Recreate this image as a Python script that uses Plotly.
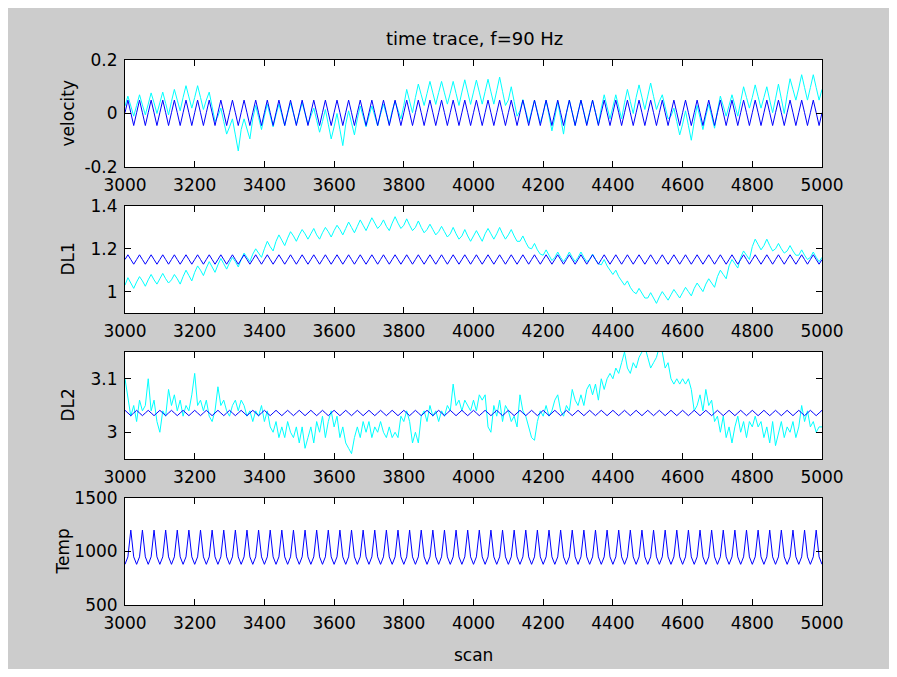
import plotly.graph_objects as go

# ---------------- data ----------------
scan_start = 3000
scan_end = 5000
n_samples = 241  # samples every 2000/240 scans (4 per 90 Hz cycle)

vel_cyan = [
    0.028, 0.065, 0.028, -0.01,   0.03, 0.07, 0.032, -0.005,   0.035, 0.077, 0.04, 0.0,   0.04, 0.08, 0.038, -0.005,
    0.045, 0.09, 0.05, 0.01,   0.06, 0.104, 0.062, 0.02,   0.06, 0.104, 0.06, 0.015,   0.05, 0.08, 0.025, -0.03,
    -0.01, 0.02, -0.03, -0.077,   -0.05, -0.02, -0.08, -0.14,   -0.06, -0.02, -0.058, -0.095,   -0.02, 0.03, -0.015, -0.06,
    -0.01, 0.035, -0.008, -0.05,   -0.005, 0.035, -0.005, -0.045,   0.0, 0.04, 0.0, -0.04,   0.0, 0.04, 0.0, -0.04,
    -0.01, 0.02, -0.025, -0.07,   -0.03, 0.015, -0.04, -0.095,   -0.05, 0.0, -0.06, -0.12,   -0.04, 0.01, -0.035, -0.08,
    -0.02, 0.028, -0.011, -0.05,   -0.01, 0.028, -0.009, -0.046,   -0.003, 0.035, -0.002, -0.04,   0.01, 0.046, 0.013, -0.02,
    0.03, 0.09, 0.046, 0.003,   0.06, 0.11, 0.07, 0.03,   0.075, 0.12, 0.077, 0.034,   0.078, 0.12, 0.077, 0.035,
    0.076, 0.12, 0.075, 0.03,   0.08, 0.126, 0.08, 0.034,   0.08, 0.125, 0.08, 0.035,   0.082, 0.128, 0.081, 0.035,
    0.085, 0.136, 0.083, 0.03,   0.05, 0.1, 0.045, -0.01,   0.01, 0.052, 0.009, -0.034,   0.008, 0.05, 0.007, -0.035,
    0.0, 0.05, -0.008, -0.065,   -0.015, 0.045, -0.016, -0.077,   0.0, 0.05, 0.003, -0.045,   0.005, 0.05, 0.005, -0.04,
    0.005, 0.05, 0.005, -0.04,   0.02, 0.07, 0.025, -0.02,   0.025, 0.07, 0.025, -0.02,   0.04, 0.09, 0.045, 0.0,
    0.06, 0.107, 0.061, 0.015,   0.065, 0.114, 0.064, 0.015,   0.045, 0.07, 0.025, -0.02,   -0.01, 0.02, -0.03, -0.08,
    -0.04, 0.01, -0.045, -0.1,   -0.03, 0.03, -0.015, -0.06,   -0.01, 0.035, -0.01, -0.055,   0.01, 0.065, 0.028, -0.01,
    0.03, 0.07, 0.03, -0.01,   0.045, 0.1, 0.06, 0.02,   0.06, 0.107, 0.063, 0.02,   0.06, 0.1, 0.05, 0.003,
    0.055, 0.11, 0.055, 0.0,   0.07, 0.13, 0.09, 0.05,   0.095, 0.145, 0.097, 0.05,   0.097, 0.145, 0.097, 0.05,
    0.09,
]

vel_blue = [
    0.003, 0.05, 0.003, -0.045, 0.003, 0.05, 0.003, -0.045, 0.003, 0.05, 0.003, -0.045, 0.003, 0.05, 0.003, -0.045,
    0.003, 0.05, 0.003, -0.045, 0.003, 0.05, 0.003, -0.045, 0.003, 0.05, 0.003, -0.045, 0.003, 0.05, 0.003, -0.045,
    0.003, 0.05, 0.003, -0.045, 0.003, 0.05, 0.003, -0.045, 0.003, 0.05, 0.003, -0.045, 0.003, 0.05, 0.003, -0.045,
    0.003, 0.05, 0.003, -0.045, 0.003, 0.05, 0.003, -0.045, 0.003, 0.05, 0.003, -0.045, 0.003, 0.05, 0.003, -0.045,
    0.003, 0.05, 0.003, -0.045, 0.003, 0.05, 0.003, -0.045, 0.003, 0.05, 0.003, -0.045, 0.003, 0.05, 0.003, -0.045,
    0.003, 0.05, 0.003, -0.045, 0.003, 0.05, 0.003, -0.045, 0.003, 0.05, 0.003, -0.045, 0.003, 0.05, 0.003, -0.045,
    0.003, 0.05, 0.003, -0.045, 0.003, 0.05, 0.003, -0.045, 0.003, 0.05, 0.003, -0.045, 0.003, 0.05, 0.003, -0.045,
    0.003, 0.05, 0.003, -0.045, 0.003, 0.05, 0.003, -0.045, 0.003, 0.05, 0.003, -0.045, 0.003, 0.05, 0.003, -0.045,
    0.003, 0.05, 0.003, -0.045, 0.003, 0.05, 0.003, -0.045, 0.003, 0.05, 0.003, -0.045, 0.003, 0.05, 0.003, -0.045,
    0.003, 0.05, 0.003, -0.045, 0.003, 0.05, 0.003, -0.045, 0.003, 0.05, 0.003, -0.045, 0.003, 0.05, 0.003, -0.045,
    0.003, 0.05, 0.003, -0.045, 0.003, 0.05, 0.003, -0.045, 0.003, 0.05, 0.003, -0.045, 0.003, 0.05, 0.003, -0.045,
    0.003, 0.05, 0.003, -0.045, 0.003, 0.05, 0.003, -0.045, 0.003, 0.05, 0.003, -0.045, 0.003, 0.05, 0.003, -0.045,
    0.003, 0.05, 0.003, -0.045, 0.003, 0.05, 0.003, -0.045, 0.003, 0.05, 0.003, -0.045, 0.003, 0.05, 0.003, -0.045,
    0.003, 0.05, 0.003, -0.045, 0.003, 0.05, 0.003, -0.045, 0.003, 0.05, 0.003, -0.045, 0.003, 0.05, 0.003, -0.045,
    0.003, 0.05, 0.003, -0.045, 0.003, 0.05, 0.003, -0.045, 0.003, 0.05, 0.003, -0.045, 0.003, 0.05, 0.003, -0.045,
    0.003,
]

dl1_cyan = [
    1.03, 1.065, 1.04, 1.015,   1.045, 1.07, 1.05, 1.025,   1.055, 1.08, 1.055, 1.035,   1.06, 1.085, 1.06, 1.04,
    1.055, 1.08, 1.06, 1.035,   1.07, 1.1, 1.075, 1.05,   1.09, 1.12, 1.1, 1.075,   1.11, 1.14, 1.115, 1.09,
    1.125, 1.155, 1.13, 1.105,   1.135, 1.16, 1.14, 1.115,   1.15, 1.18, 1.16, 1.14,   1.175, 1.2, 1.18, 1.16,
    1.2, 1.235, 1.21, 1.19,   1.235, 1.265, 1.24, 1.215,   1.25, 1.28, 1.26, 1.235,   1.265, 1.29, 1.27, 1.245,
    1.27, 1.295, 1.265, 1.245,   1.275, 1.3, 1.28, 1.255,   1.285, 1.31, 1.29, 1.265,   1.295, 1.325, 1.3, 1.275,
    1.305, 1.335, 1.31, 1.285,   1.315, 1.345, 1.32, 1.295,   1.31, 1.335, 1.305, 1.285,   1.32, 1.35, 1.32, 1.295,
    1.31, 1.34, 1.31, 1.285,   1.3, 1.33, 1.3, 1.275,   1.29, 1.315, 1.29, 1.265,   1.28, 1.305, 1.28, 1.255,
    1.27, 1.3, 1.27, 1.245,   1.26, 1.29, 1.26, 1.235,   1.26, 1.285, 1.26, 1.235,   1.27, 1.295, 1.27, 1.245,
    1.27, 1.3, 1.27, 1.245,   1.265, 1.29, 1.26, 1.235,   1.235, 1.26, 1.23, 1.205,   1.2, 1.225, 1.195, 1.175,
    1.17, 1.195, 1.17, 1.145,   1.16, 1.185, 1.16, 1.14,   1.16, 1.185, 1.16, 1.14,   1.16, 1.185, 1.16, 1.14,
    1.15, 1.175, 1.15, 1.13,   1.125, 1.15, 1.12, 1.1,   1.08, 1.1, 1.07, 1.05,   1.03, 1.05, 1.02, 1.0,
    0.99, 1.015, 0.99, 0.97,   0.97, 0.995, 0.97, 0.945,   0.975, 1.0, 0.98, 0.96,   0.985, 1.01, 0.99, 0.97,
    0.995, 1.02, 1.0, 0.98,   1.015, 1.04, 1.02, 1.0,   1.035, 1.06, 1.04, 1.02,   1.07, 1.1, 1.08, 1.06,
    1.12, 1.15, 1.13, 1.11,   1.16, 1.19, 1.17, 1.15,   1.21, 1.245, 1.22, 1.195,   1.215, 1.245, 1.215, 1.19,
    1.2, 1.225, 1.2, 1.18,   1.19, 1.215, 1.19, 1.17,   1.17, 1.195, 1.17, 1.15,   1.16, 1.185, 1.16, 1.14,
    1.16,
]

dl1_blue = [
    1.15, 1.172, 1.15, 1.128, 1.15, 1.172, 1.15, 1.128, 1.15, 1.172, 1.15, 1.128, 1.15, 1.172, 1.15, 1.128,
    1.15, 1.172, 1.15, 1.128, 1.15, 1.172, 1.15, 1.128, 1.15, 1.172, 1.15, 1.128, 1.15, 1.172, 1.15, 1.128,
    1.15, 1.172, 1.15, 1.128, 1.15, 1.172, 1.15, 1.128, 1.15, 1.172, 1.15, 1.128, 1.15, 1.172, 1.15, 1.128,
    1.15, 1.172, 1.15, 1.128, 1.15, 1.172, 1.15, 1.128, 1.15, 1.172, 1.15, 1.128, 1.15, 1.172, 1.15, 1.128,
    1.15, 1.172, 1.15, 1.128, 1.15, 1.172, 1.15, 1.128, 1.15, 1.172, 1.15, 1.128, 1.15, 1.172, 1.15, 1.128,
    1.15, 1.172, 1.15, 1.128, 1.15, 1.172, 1.15, 1.128, 1.15, 1.172, 1.15, 1.128, 1.15, 1.172, 1.15, 1.128,
    1.15, 1.172, 1.15, 1.128, 1.15, 1.172, 1.15, 1.128, 1.15, 1.172, 1.15, 1.128, 1.15, 1.172, 1.15, 1.128,
    1.15, 1.172, 1.15, 1.128, 1.15, 1.172, 1.15, 1.128, 1.15, 1.172, 1.15, 1.128, 1.15, 1.172, 1.15, 1.128,
    1.15, 1.172, 1.15, 1.128, 1.15, 1.172, 1.15, 1.128, 1.15, 1.172, 1.15, 1.128, 1.15, 1.172, 1.15, 1.128,
    1.15, 1.172, 1.15, 1.128, 1.15, 1.172, 1.15, 1.128, 1.15, 1.172, 1.15, 1.128, 1.15, 1.172, 1.15, 1.128,
    1.15, 1.172, 1.15, 1.128, 1.15, 1.172, 1.15, 1.128, 1.15, 1.172, 1.15, 1.128, 1.15, 1.172, 1.15, 1.128,
    1.15, 1.172, 1.15, 1.128, 1.15, 1.172, 1.15, 1.128, 1.15, 1.172, 1.15, 1.128, 1.15, 1.172, 1.15, 1.128,
    1.15, 1.172, 1.15, 1.128, 1.15, 1.172, 1.15, 1.128, 1.15, 1.172, 1.15, 1.128, 1.15, 1.172, 1.15, 1.128,
    1.15, 1.172, 1.15, 1.128, 1.15, 1.172, 1.15, 1.128, 1.15, 1.172, 1.15, 1.128, 1.15, 1.172, 1.15, 1.128,
    1.15, 1.172, 1.15, 1.128, 1.15, 1.172, 1.15, 1.128, 1.15, 1.172, 1.15, 1.128, 1.15, 1.172, 1.15, 1.128,
    1.15,
]

dl2_cyan = [
    3.10, 3.06, 3.03, 3.05, 3.02, 3.06, 3.04, 3.05, 3.10, 3.04, 3.06, 3.02, 3.00, 3.04, 3.03, 3.08,
    3.05, 3.07, 3.04, 3.06, 3.03, 3.05, 3.04, 3.07, 3.11, 3.05, 3.06, 3.04, 3.06, 3.03, 3.02, 3.04,
    3.085, 3.05, 3.06, 3.04, 3.03, 3.05, 3.06, 3.04, 3.06, 3.05, 3.03, 3.04, 3.02, 3.04, 3.03, 3.05,
    3.02, 3.04, 3.01, 3.00, 3.02, 2.99, 3.01, 2.99, 3.02, 3.00, 2.99, 3.01, 2.98, 3.01, 2.97, 2.99,
    3.01, 2.98, 3.02, 3.00, 3.03, 2.99, 3.02, 3.04, 3.01, 3.03, 2.99, 3.01, 2.98, 2.97, 2.96, 2.99,
    3.01, 2.99, 3.02, 3.00, 3.02, 2.99, 3.01, 3.00, 3.02, 3.00, 2.99, 3.01, 2.99, 3.00, 2.99, 3.03,
    3.02, 3.04, 3.02, 2.98, 3.00, 2.98, 3.03, 3.04, 3.02, 3.05, 3.03, 3.04, 3.02, 3.04, 3.03, 3.05,
    3.04, 3.09, 3.05, 3.06, 3.04, 3.06, 3.05, 3.04, 3.06, 3.04, 3.07, 3.06, 3.07, 3.01, 3.00, 3.05,
    3.03, 3.06, 3.02, 3.05, 3.04, 3.02, 3.03, 3.01, 3.07, 3.04, 3.03, 3.01, 2.99, 2.985, 3.02, 3.04,
    3.03, 3.05, 3.03, 3.04, 3.06, 3.07, 3.04, 3.03, 3.05, 3.04, 3.08, 3.06, 3.05, 3.07, 3.05, 3.08,
    3.09, 3.07, 3.09, 3.06, 3.10, 3.08, 3.10, 3.11, 3.10, 3.12, 3.11, 3.13, 3.15, 3.12, 3.11, 3.13,
    3.12, 3.14, 3.15, 3.16, 3.14, 3.12, 3.13, 3.14, 3.16, 3.15, 3.12, 3.13, 3.10, 3.09, 3.10, 3.09,
    3.10, 3.09, 3.10, 3.08, 3.04, 3.05, 3.07, 3.04, 3.08, 3.05, 3.06, 3.02, 3.03, 3.00, 3.03, 2.99,
    3.01, 2.98, 3.01, 3.03, 3.00, 3.02, 2.99, 3.02, 3.01, 3.03, 3.01, 3.02, 2.99, 3.01, 2.98, 3.02,
    2.975, 3.00, 3.02, 2.99, 3.01, 3.00, 3.02, 2.99, 3.01, 3.05, 3.02, 3.04, 3.01, 3.02, 3.00, 3.01,
    3.01,
]

dl2_blue = [
    3.041, 3.036, 3.031, 3.036, 3.041, 3.036, 3.031, 3.036, 3.041, 3.036, 3.031, 3.036, 3.041, 3.036, 3.031, 3.036,
    3.041, 3.036, 3.031, 3.036, 3.041, 3.036, 3.031, 3.036, 3.041, 3.036, 3.031, 3.036, 3.041, 3.036, 3.031, 3.036,
    3.041, 3.036, 3.031, 3.036, 3.041, 3.036, 3.031, 3.036, 3.041, 3.036, 3.031, 3.036, 3.041, 3.036, 3.031, 3.036,
    3.041, 3.036, 3.031, 3.036, 3.041, 3.036, 3.031, 3.036, 3.041, 3.036, 3.031, 3.036, 3.041, 3.036, 3.031, 3.036,
    3.041, 3.036, 3.031, 3.036, 3.041, 3.036, 3.031, 3.036, 3.041, 3.036, 3.031, 3.036, 3.041, 3.036, 3.031, 3.036,
    3.041, 3.036, 3.031, 3.036, 3.041, 3.036, 3.031, 3.036, 3.041, 3.036, 3.031, 3.036, 3.041, 3.036, 3.031, 3.036,
    3.041, 3.036, 3.031, 3.036, 3.041, 3.036, 3.031, 3.036, 3.041, 3.036, 3.031, 3.036, 3.041, 3.036, 3.031, 3.036,
    3.041, 3.036, 3.031, 3.036, 3.041, 3.036, 3.031, 3.036, 3.041, 3.036, 3.031, 3.036, 3.041, 3.036, 3.031, 3.036,
    3.041, 3.036, 3.031, 3.036, 3.041, 3.036, 3.031, 3.036, 3.041, 3.036, 3.031, 3.036, 3.041, 3.036, 3.031, 3.036,
    3.041, 3.036, 3.031, 3.036, 3.041, 3.036, 3.031, 3.036, 3.041, 3.036, 3.031, 3.036, 3.041, 3.036, 3.031, 3.036,
    3.041, 3.036, 3.031, 3.036, 3.041, 3.036, 3.031, 3.036, 3.041, 3.036, 3.031, 3.036, 3.041, 3.036, 3.031, 3.036,
    3.041, 3.036, 3.031, 3.036, 3.041, 3.036, 3.031, 3.036, 3.041, 3.036, 3.031, 3.036, 3.041, 3.036, 3.031, 3.036,
    3.041, 3.036, 3.031, 3.036, 3.041, 3.036, 3.031, 3.036, 3.041, 3.036, 3.031, 3.036, 3.041, 3.036, 3.031, 3.036,
    3.041, 3.036, 3.031, 3.036, 3.041, 3.036, 3.031, 3.036, 3.041, 3.036, 3.031, 3.036, 3.041, 3.036, 3.031, 3.036,
    3.041, 3.036, 3.031, 3.036, 3.041, 3.036, 3.031, 3.036, 3.041, 3.036, 3.031, 3.036, 3.041, 3.036, 3.031, 3.036,
    3.041,
]

temp_blue = [
    880, 950, 1200, 950, 880, 950, 1200, 950, 880, 950, 1200, 950, 880, 950, 1200, 950,
    880, 950, 1200, 950, 880, 950, 1200, 950, 880, 950, 1200, 950, 880, 950, 1200, 950,
    880, 950, 1200, 950, 880, 950, 1200, 950, 880, 950, 1200, 950, 880, 950, 1200, 950,
    880, 950, 1200, 950, 880, 950, 1200, 950, 880, 950, 1200, 950, 880, 950, 1200, 950,
    880, 950, 1200, 950, 880, 950, 1200, 950, 880, 950, 1200, 950, 880, 950, 1200, 950,
    880, 950, 1200, 950, 880, 950, 1200, 950, 880, 950, 1200, 950, 880, 950, 1200, 950,
    880, 950, 1200, 950, 880, 950, 1200, 950, 880, 950, 1200, 950, 880, 950, 1200, 950,
    880, 950, 1200, 950, 880, 950, 1200, 950, 880, 950, 1200, 950, 880, 950, 1200, 950,
    880, 950, 1200, 950, 880, 950, 1200, 950, 880, 950, 1200, 950, 880, 950, 1200, 950,
    880, 950, 1200, 950, 880, 950, 1200, 950, 880, 950, 1200, 950, 880, 950, 1200, 950,
    880, 950, 1200, 950, 880, 950, 1200, 950, 880, 950, 1200, 950, 880, 950, 1200, 950,
    880, 950, 1200, 950, 880, 950, 1200, 950, 880, 950, 1200, 950, 880, 950, 1200, 950,
    880, 950, 1200, 950, 880, 950, 1200, 950, 880, 950, 1200, 950, 880, 950, 1200, 950,
    880, 950, 1200, 950, 880, 950, 1200, 950, 880, 950, 1200, 950, 880, 950, 1200, 950,
    880, 950, 1200, 950, 880, 950, 1200, 950, 880, 950, 1200, 950, 880, 950, 1200, 950,
    880,
]

x_ticks = [3000, 3200, 3400, 3600, 3800, 4000, 4200, 4400, 4600, 4800, 5000]
x_tick_labels = ["3000", "3200", "3400", "3600", "3800", "4000", "4200", "4400", "4600", "4800", "5000"]

vel_ticks, vel_labels = [-0.2, 0, 0.2], ["-0.2", "0", "0.2"]
dl1_ticks, dl1_labels = [1, 1.2, 1.4], ["1", "1.2", "1.4"]
dl2_ticks, dl2_labels = [3, 3.1], ["3", "3.1"]
temp_ticks, temp_labels = [500, 1000, 1500], ["500", "1000", "1500"]

panel_names = ["velocity", "DL1", "DL2", "Temp"]
title_text = "time trace, f=90 Hz"
xlabel_text = "scan"

# ---------------- figure ----------------
step = (scan_end - scan_start) / (n_samples - 1)
scan = [scan_start + i * step for i in range(n_samples)]

OFF = 8                       # page body margin in the browser
W, H = 897 - 2 * OFF, 677 - 2 * OFF
# plot-area box in screenshot pixels
L, R, T, B = 125, 822, 60, 605
PW, PH = R - L, B - T

def py(p):  # screenshot pixel y -> paper y
    return (B - p) / PH

def px(p):  # screenshot pixel x -> paper x
    return (p - L) / PW

panels_px = [(60, 167), (206, 313), (352, 459), (498, 605)]
ylabel_px = [67, 67, 67, 62]

CYAN = "#00ffff"
BLUE = "#0000ff"
FONT = "DejaVu Sans"
GRAY = "#cccccc"

fig = go.Figure()

series = [
    (vel_cyan, vel_blue),
    (dl1_cyan, dl1_blue),
    (dl2_cyan, dl2_blue),
    (None, temp_blue),
]
for i, (cy, bl) in enumerate(series):
    xa = "x" if i == 0 else f"x{i+1}"
    ya = "y" if i == 0 else f"y{i+1}"
    if cy is not None:
        fig.add_trace(go.Scatter(x=scan, y=cy, mode="lines", line=dict(color=CYAN, width=1),
                                 xaxis=xa, yaxis=ya, hoverinfo="skip", showlegend=False))
    fig.add_trace(go.Scatter(x=scan, y=bl, mode="lines", line=dict(color=BLUE, width=1),
                             xaxis=xa, yaxis=ya, hoverinfo="skip", showlegend=False))

y_specs = [
    ([-0.2, 0.2], vel_ticks, vel_labels),
    ([0.9, 1.4], dl1_ticks, dl1_labels),
    ([2.95, 3.15], dl2_ticks, dl2_labels),
    ([500, 1500], temp_ticks, temp_labels),
]

tickfont = dict(family=FONT, size=17, color="black")
layout = dict(
    width=W, height=H,
    margin=dict(l=L - OFF, r=W - (R - OFF), t=T - OFF, b=H - (B - OFF), pad=0),
    paper_bgcolor=GRAY, plot_bgcolor="white",
    showlegend=False,
    font=dict(family=FONT, size=17, color="black"),
)
for i, ((top, bot), (yr, yt, yl)) in enumerate(zip(panels_px, y_specs)):
    sfx = "" if i == 0 else str(i + 1)
    layout["xaxis" + sfx] = dict(
        domain=[0, 1], anchor="y" + sfx, range=[scan_start, scan_end],
        tickmode="array", tickvals=x_ticks, ticktext=x_tick_labels,
        ticks="inside", ticklen=6, tickcolor="black", tickwidth=1, ticklabelstandoff=3,
        showline=True, linecolor="black", linewidth=1, mirror="ticks",
        showgrid=False, zeroline=False, tickfont=tickfont, fixedrange=True,
    )
    layout["yaxis" + sfx] = dict(
        domain=[py(bot), py(top)], anchor="x" + sfx, range=yr,
        tickmode="array", tickvals=yt, ticktext=yl,
        ticks="inside", ticklen=6, tickcolor="black", tickwidth=1, ticklabelstandoff=3,
        showline=True, linecolor="black", linewidth=1, mirror="ticks",
        showgrid=False, zeroline=False, tickfont=tickfont, fixedrange=True,
    )
fig.update_layout(**layout)

annotations = []
for (top, bot), name, lx in zip(panels_px, panel_names, ylabel_px):
    annotations.append(dict(text=name, xref="paper", yref="paper", x=px(lx), y=py((top + bot) / 2),
                            xanchor="center", yanchor="middle", textangle=-90, showarrow=False,
                            font=dict(family=FONT, size=17, color="black")))
annotations.append(dict(text=title_text, xref="paper", yref="paper", x=px(474), y=py(38),
                        xanchor="center", yanchor="middle", showarrow=False,
                        font=dict(family=FONT, size=18, color="black")))
annotations.append(dict(text=xlabel_text, xref="paper", yref="paper", x=px(473), y=py(655),
                        xanchor="center", yanchor="middle", showarrow=False,
                        font=dict(family=FONT, size=17, color="black")))
fig.update_layout(annotations=annotations)

fig.write_html("out.html")
